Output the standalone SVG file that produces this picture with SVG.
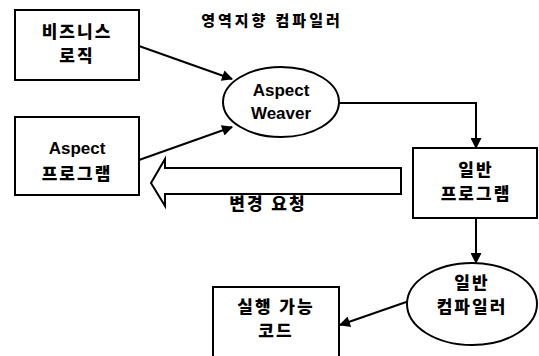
<svg xmlns="http://www.w3.org/2000/svg" width="539" height="356" viewBox="0 0 539 356">
  <defs>
    <marker id="arrow" viewBox="0 0 10 10" refX="9" refY="5" markerWidth="12" markerHeight="11" markerUnits="userSpaceOnUse" orient="auto">
      <path d="M0,0 L10,5 L0,10 z" fill="#000"/>
    </marker>
    <style>
      .box { fill: #fff; stroke: #000; stroke-width: 2; }
      .edge { fill: none; stroke: #000; stroke-width: 2; }
      .lbl { font-family: "Liberation Sans", "Noto Sans CJK KR", sans-serif; font-weight: 900; font-size: 17px; fill: #000; text-anchor: middle; dominant-baseline: central; letter-spacing: 2px; }
      .en { letter-spacing: 0; }
      .title { font-size: 15px; letter-spacing: 3px; }
    </style>
  </defs>
  <rect width="539" height="356" fill="#fff"/>

  <text class="lbl title" x="272" y="20">영역지향 컴파일러</text>

  <g id="connectors">
    <line class="edge" x1="139" y1="46" x2="232" y2="79" marker-end="url(#arrow)"/>
    <line class="edge" x1="139" y1="160" x2="232" y2="127" marker-end="url(#arrow)"/>
    <polyline class="edge" points="339,103 476,103 476,148" marker-end="url(#arrow)"/>
    <line class="edge" x1="476" y1="218" x2="476" y2="263" marker-end="url(#arrow)"/>
    <line class="edge" x1="412" y1="300" x2="340" y2="325" marker-end="url(#arrow)"/>
    <!-- hollow feedback arrow -->
    <polygon class="box" points="401,168 165,168 165,159 151,183 165,206 165,194 401,194"/>
    <text class="lbl" x="268" y="204">변경 요청</text>
  </g>

  <g id="business-logic">
    <rect class="box" x="15" y="10" width="124" height="70"/>
    <text class="lbl" x="77" y="32">비즈니스</text>
    <text class="lbl" x="77" y="56">로직</text>
  </g>

  <g id="aspect-program">
    <rect class="box" x="15" y="117" width="124" height="78"/>
    <text class="lbl en" x="77" y="148">Aspect</text>
    <text class="lbl" x="77" y="174">프로그램</text>
  </g>

  <g id="aspect-weaver">
    <ellipse class="box" cx="281" cy="102" rx="58" ry="35"/>
    <text class="lbl en" x="281" y="90">Aspect</text>
    <text class="lbl en" x="281" y="113">Weaver</text>
  </g>

  <g id="general-program">
    <rect class="box" x="413" y="148" width="124" height="70"/>
    <text class="lbl" x="476" y="170">일반</text>
    <text class="lbl" x="476" y="194">프로그램</text>
  </g>

  <g id="general-compiler">
    <ellipse class="box" cx="472" cy="304" rx="65" ry="41"/>
    <text class="lbl" x="472" y="283">일반</text>
    <text class="lbl" x="472" y="307">컴파일러</text>
  </g>

  <g id="executable-code">
    <rect class="box" x="213" y="287" width="126" height="70"/>
    <text class="lbl" x="276" y="307">실행 가능</text>
    <text class="lbl" x="276" y="331">코드</text>
  </g>
</svg>
